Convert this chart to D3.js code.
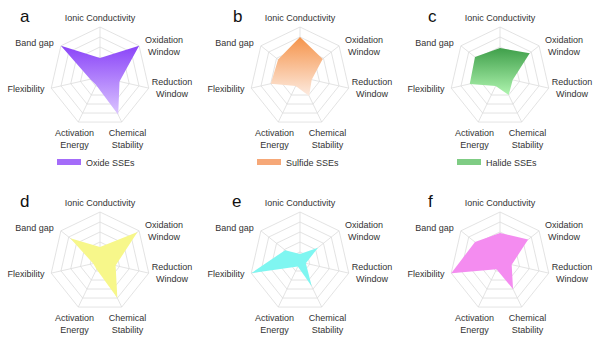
<!DOCTYPE html>
<html><head><meta charset="utf-8">
<script src="https://cdn.jsdelivr.net/npm/d3@7"></script>
<style>html,body{margin:0;padding:0;background:#fff}svg{display:block}</style>
</head><body><svg id="c" width="600" height="337"></svg>
<script>
const axes = ["Ionic Conductivity","Oxidation Window","Reduction Window","Chemical Stability","Activation Energy","Flexibility","Band gap"];
const levels = [1,2,3,4,5];
const oxide   = [1.9, 5.0, 2.0, 4.2, 0.9, 1.0, 5.0];
const sulfide = [4.0, 2.9, 1.2, 2.1, 1.0, 3.0, 2.8];
const halide  = [2.9, 3.8, 1.3, 2.0, 1.0, 3.1, 3.2];
const seriesD = [1.5, 4.8, 1.6, 4.0, 0.8, 0.7, 3.8];
const seriesE = [0.8, 2.3, 0.6, 2.7, 0.5, 5.0, 1.9];
const seriesF = [2.9, 3.6, 1.2, 3.0, 0.8, 5.0, 3.2];
const panelLetters = ["a","b","c","d","e","f"];
const legendNames = ["Oxide SSEs","Sulfide SSEs","Halide SSEs",null,null,null];

const svg = d3.select("#c");
const font = "'Liberation Sans', Arial, sans-serif";
const R = 50;
const r = d3.scaleLinear().domain([0,5]).range([0,R]);
const ang = d3.scalePoint().domain(d3.range(axes.length+1)).range([0, 2*Math.PI]);

const panels = [
  {vals: oxide,   cx:100, cy:77,  lx:20,  ly:22,  top:"#8a44f8", bot:"#dcc6ff", leg:"#a46cf9"},
  {vals: sulfide, cx:300, cy:77,  lx:233, ly:22,  top:"#f5934a", bot:"#fdebe0", leg:"#f6a878"},
  {vals: halide,  cx:500, cy:77,  lx:428, ly:22,  top:"#3f9f4a", bot:"#b0f5b0", leg:"#7fcc84"},
  {vals: seriesD, cx:100, cy:262, lx:20,  ly:207, top:"#f7f78a", bot:"#f7f78a"},
  {vals: seriesE, cx:300, cy:262, lx:232, ly:207, top:"#7ff6f1", bot:"#7ff6f1"},
  {vals: seriesF, cx:500, cy:262, lx:428, ly:207, top:"#f48cf0", bot:"#f48cf0"}
];

// label layout offsets relative to center (two-line labels split)
const labelPos = [
  {dx:0, dy:-59, lines:["Ionic Conductivity"]},
  {dx:64, dy:-37, lines:["Oxidation","Window"]},
  {dx:72, dy:5, lines:["Reduction","Window"]},
  {dx:27.5, dy:56, lines:["Chemical","Stability"]},
  {dx:-25.5, dy:56, lines:["Activation","Energy"]},
  {dx:-74, dy:12, lines:["Flexibility"]},
  {dx:-65.5, dy:-34, lines:["Band gap"]}
];

const defs = svg.append("defs");
const radial = d3.lineRadial().angle((d,i)=>ang(i)).radius(d=>r(d)).curve(d3.curveLinearClosed);

panels.forEach((p, k) => {
  const g = svg.append("g").attr("transform", `translate(${p.cx},${p.cy})`);
  // grid rings
  levels.forEach(l => {
    g.append("path").attr("d", radial(axes.map(()=>l)))
      .attr("fill","none").attr("stroke","#dcdcdc").attr("stroke-width",0.8);
  });
  // spokes
  axes.forEach((a,i) => {
    const x = r(5)*Math.sin(ang(i)), y = -r(5)*Math.cos(ang(i));
    g.append("line").attr("x1",0).attr("y1",0).attr("x2",x).attr("y2",y)
      .attr("stroke","#dcdcdc").attr("stroke-width",0.8);
  });
  // gradient
  const gid = "grad"+k;
  const lg = defs.append("linearGradient").attr("id",gid).attr("x1",0).attr("y1",0).attr("x2",0).attr("y2",1);
  lg.append("stop").attr("offset","0%").attr("stop-color",p.top);
  lg.append("stop").attr("offset","100%").attr("stop-color",p.bot);
  g.append("path").attr("d", radial(p.vals)).attr("fill",`url(#${gid})`).attr("stroke","none");
  // labels
  labelPos.forEach(lp => {
    lp.lines.forEach((t,j) => {
      g.append("text").attr("x",lp.dx).attr("y",lp.dy + j*11.5)
        .attr("text-anchor","middle").attr("dominant-baseline","central")
        .attr("font-family",font).attr("font-size",9).attr("fill","#333").text(t);
    });
  });
  // panel letter
  svg.append("text").attr("x",p.lx).attr("y",p.ly).attr("font-family",font)
    .attr("font-size",17).attr("fill","#111").text(panelLetters[k]);
  // legend
  if (legendNames[k]) {
    g.append("rect").attr("x",-43).attr("y",82).attr("width",24).attr("height",6).attr("fill",p.leg);
    g.append("text").attr("x",-14).attr("y",85.5).attr("dominant-baseline","central")
      .attr("font-family",font).attr("font-size",9).attr("fill","#333").text(legendNames[k]);
  }
});
</script></body></html>
